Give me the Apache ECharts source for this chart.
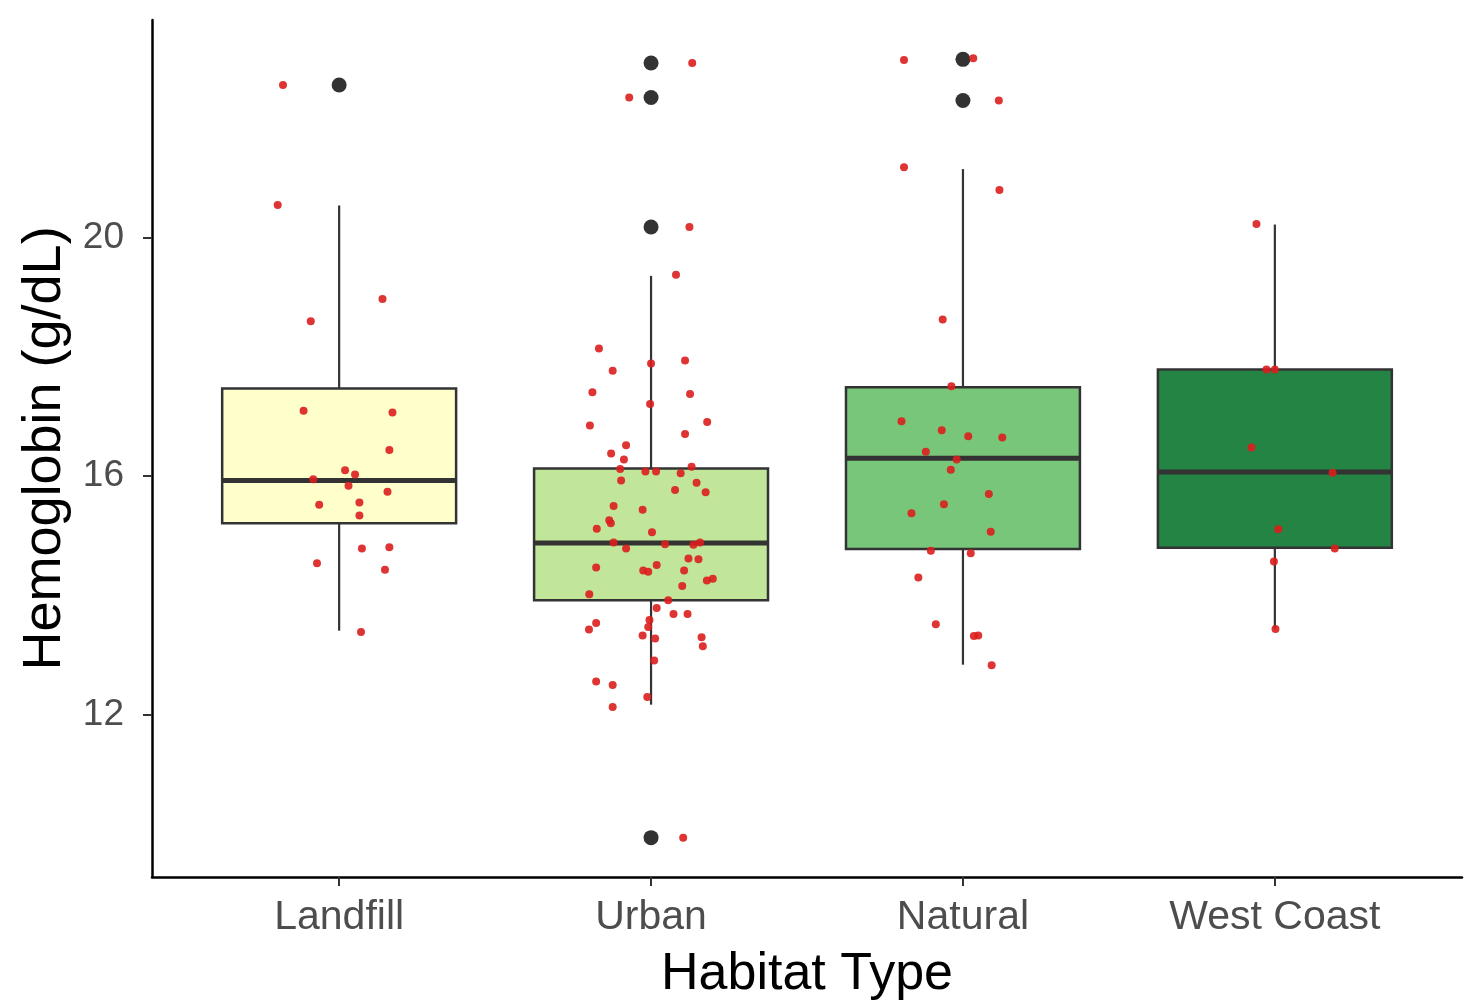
<!DOCTYPE html>
<html>
<head>
<meta charset="utf-8">
<script src="https://cdn.jsdelivr.net/npm/echarts@6/dist/echarts.min.js"></script>
<style>
html,body{margin:0;padding:0;background:#fff;}
#chart{width:1478px;height:1006px;}
</style>
</head>
<body>
<div id="chart"></div>
<script>
// ---- data ----
var categories = ['Landfill', 'Urban', 'Natural', 'West Coast'];
var yTicks = [12, 16, 20];
// box stats: [lowerWhisker, Q1, median, Q3, upperWhisker]
var boxLandfill = [13.41, 15.21, 15.93, 17.47, 20.54];
var boxUrban = [12.17, 13.92, 14.88, 16.13, 19.36];
var boxNatural = [12.84, 14.78, 16.30, 17.49, 21.15];
var boxWestCoast = [13.44, 14.80, 16.07, 17.79, 20.22];
// outliers per category
var outLandfill = [22.56];
var outUrban = [22.93, 22.35, 20.18, 9.94];
var outNatural = [22.99, 22.30];
var outWestCoast = [];
// jittered raw points: [x offset from category centre, value]
var ptsLandfill = [
  [-0.18, 22.56], [-0.197, 20.55], [-0.091, 18.60], [0.139, 18.97],
  [-0.114, 17.10], [0.171, 17.07], [0.161, 16.44], [0.019, 16.10],
  [0.051, 16.03], [0.030, 15.84], [0.155, 15.74], [-0.064, 15.52],
  [0.065, 15.56], [0.065, 15.34], [0.073, 14.79], [0.161, 14.81],
  [-0.071, 14.54], [0.147, 14.43], [0.070, 13.39], [-0.083, 15.95]
];
var ptsUrban = [
  [0.132, 22.93], [-0.070, 22.35], [0.123, 20.18], [0.080, 19.38], [0.103, 9.94],
  [-0.167, 18.14], [0.109, 17.94], [-0.123, 17.77], [0.000, 17.89],
  [-0.188, 17.41], [0.125, 17.38], [-0.003, 17.21], [-0.196, 16.85],
  [0.180, 16.91], [0.109, 16.71], [-0.080, 16.52], [-0.128, 16.38],
  [-0.087, 16.28], [-0.099, 16.12], [-0.018, 16.08], [0.016, 16.08],
  [0.130, 16.16], [0.095, 16.05], [-0.096, 15.93], [0.146, 15.89],
  [0.077, 15.77], [0.175, 15.73], [-0.120, 15.50], [-0.027, 15.44],
  [-0.129, 15.21], [-0.134, 15.26], [-0.174, 15.12], [0.003, 15.06],
  [-0.120, 14.89], [-0.080, 14.79], [0.045, 14.86], [0.136, 14.85],
  [0.157, 14.89], [0.120, 14.62], [0.152, 14.61], [-0.176, 14.47],
  [-0.025, 14.42], [-0.009, 14.40], [0.018, 14.51], [0.106, 14.42],
  [0.179, 14.25], [0.198, 14.28], [0.100, 14.16], [-0.198, 14.02],
  [0.055, 13.92], [0.018, 13.79], [0.072, 13.69], [0.117, 13.69],
  [-0.005, 13.59], [-0.176, 13.54], [-0.199, 13.43], [-0.009, 13.47],
  [-0.027, 13.33], [0.013, 13.28], [0.162, 13.30], [0.166, 13.15],
  [0.010, 12.91], [-0.176, 12.56], [-0.123, 12.50], [-0.012, 12.30],
  [-0.123, 12.13]
];
var ptsNatural = [
  [-0.189, 22.98], [0.033, 23.01], [0.115, 22.30], [-0.189, 21.18],
  [0.117, 20.80], [-0.065, 18.63], [-0.037, 17.51], [-0.197, 16.92],
  [-0.068, 16.77], [0.017, 16.67], [0.126, 16.65], [-0.119, 16.41],
  [-0.020, 16.28], [-0.039, 16.11], [0.083, 15.70], [-0.061, 15.53],
  [-0.165, 15.38], [0.089, 15.07], [-0.103, 14.75], [0.025, 14.71],
  [-0.143, 14.30], [-0.087, 13.52], [0.049, 13.33], [0.035, 13.32],
  [0.092, 12.83]
];
var ptsWestCoast = [
  [-0.059, 20.23], [-0.027, 17.79], [0.000, 17.79], [-0.075, 16.48],
  [0.185, 16.06], [0.011, 15.11], [0.192, 14.79], [-0.003, 14.57],
  [0.002, 13.44]
];

// ---- styles ----
var boxColors = ['#ffffcc', '#c2e699', '#78c679', '#238443'];
var FONT = '"Liberation Sans", Arial, sans-serif';

var boxes = [boxLandfill, boxUrban, boxNatural, boxWestCoast];
var outs = [outLandfill, outUrban, outNatural, outWestCoast];
var pts = [ptsLandfill, ptsUrban, ptsNatural, ptsWestCoast];

var boxData = boxes.map(function (b, i) { return [i + 1].concat(b); });
var outData = [];
outs.forEach(function (arr, i) { arr.forEach(function (v) { outData.push([i + 1, v]); }); });
var ptData = [];
pts.forEach(function (arr, i) { arr.forEach(function (p) { ptData.push([i + 1 + p[0], p[1]]); }); });

var chart = echarts.init(document.getElementById('chart'), null, {renderer: 'canvas'});
var halfW = 0.375;

chart.setOption({
  animation: false,
  backgroundColor: '#ffffff',
  grid: {left: 152, right: 16, top: 20, bottom: 119, containLabel: false},
  xAxis: {
    type: 'value', min: 0.4, max: 4.6,
    name: 'Habitat Type', nameLocation: 'middle', nameGap: 72,
    nameTextStyle: {fontFamily: FONT, fontSize: 52, color: '#000'},
    axisLine: {show: true, onZero: false, lineStyle: {color: '#000', width: 2.5}},
    axisTick: {show: true, customValues: [1, 2, 3, 4], length: 9, lineStyle: {color: '#333', width: 2}},
    axisLabel: {customValues: [1, 2, 3, 4], margin: 20, fontFamily: FONT, fontSize: 41, color: '#4d4d4d',
      formatter: function (v) { return categories[Math.round(v) - 1]; }},
    splitLine: {show: false}
  },
  yAxis: {
    type: 'value', min: 9.28, max: 23.65,
    name: 'Hemoglobin (g/dL)', nameLocation: 'middle', nameGap: 80,
    nameTextStyle: {fontFamily: FONT, fontSize: 54, color: '#000'},
    axisLine: {show: true, onZero: false, lineStyle: {color: '#000', width: 2.5}},
    axisTick: {show: true, customValues: yTicks, length: 9, lineStyle: {color: '#333', width: 2}},
    axisLabel: {customValues: yTicks, margin: 28, fontFamily: FONT, fontSize: 37, color: '#4d4d4d'},
    splitLine: {show: false}
  },
  series: [
    {
      type: 'custom',
      data: boxData,
      encode: {x: 0, y: [1, 2, 3, 4, 5]},
      renderItem: function (params, api) {
        var x = api.value(0);
        var lo = api.coord([x, api.value(1)]);
        var q1 = api.coord([x, api.value(2)]);
        var md = api.coord([x, api.value(3)]);
        var q3 = api.coord([x, api.value(4)]);
        var hi = api.coord([x, api.value(5)]);
        var left = api.coord([x - halfW, api.value(3)])[0];
        var right = api.coord([x + halfW, api.value(3)])[0];
        var st = {stroke: '#333333', lineWidth: 2.2, fill: null};
        return {
          type: 'group',
          children: [
            {type: 'line', shape: {x1: hi[0], y1: hi[1], x2: q3[0], y2: q3[1]}, style: st},
            {type: 'line', shape: {x1: q1[0], y1: q1[1], x2: lo[0], y2: lo[1]}, style: st},
            {type: 'rect', shape: {x: left, y: q3[1], width: right - left, height: q1[1] - q3[1]},
              style: {fill: boxColors[params.dataIndex], stroke: '#333333', lineWidth: 2.5}},
            {type: 'line', shape: {x1: left, y1: md[1], x2: right, y2: md[1]},
              style: {stroke: '#333333', lineWidth: 5}}
          ]
        };
      },
      z: 1
    },
    {
      type: 'scatter', data: outData, symbol: 'circle', symbolSize: 15,
      itemStyle: {color: '#333333', opacity: 1}, z: 2
    },
    {
      type: 'scatter', data: ptData, symbol: 'circle', symbolSize: 8,
      itemStyle: {color: '#dc1e1e', opacity: 0.9}, z: 3
    }
  ]
});
</script>
</body>
</html>
